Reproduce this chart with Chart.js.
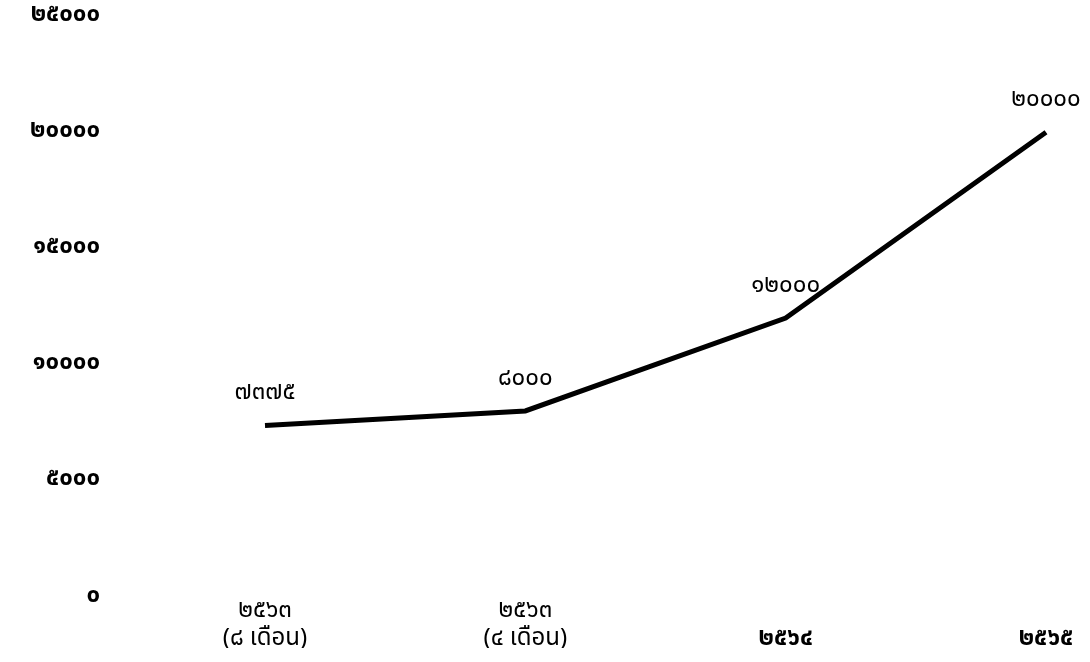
<!DOCTYPE html>
<html>
<head>
<meta charset="utf-8">
<script src="https://cdn.jsdelivr.net/npm/chart.js@4.4.0/dist/chart.umd.min.js"></script>
<style>
  html, body { margin: 0; padding: 0; background: #fff; overflow: hidden; }
  canvas { display: block; }
</style>
</head>
<body>
<canvas id="chart" width="1090" height="662"></canvas>
<script>
// ข้อมูล
const categories = [["๒๕๖๓", "(๘ เดือน)"], ["๒๕๖๓", "(๔ เดือน)"], ["", "๒๕๖๔"], ["", "๒๕๖๕"]];
const values = [7375, 8000, 12000, 20000];
const valueLabels = ["๗๓๗๕", "๘๐๐๐", "๑๒๐๐๐", "๒๐๐๐๐"];
const yTickLabels = ["๐", "๕๐๐๐", "๑๐๐๐๐", "๑๕๐๐๐", "๒๐๐๐๐", "๒๕๐๐๐"];

const FONT = "'Noto Sans Thai', Tahoma, 'Noto Sans', 'DejaVu Sans', sans-serif";
Chart.defaults.font.family = FONT;
Chart.defaults.color = "#000";

// ตัวเลขกำกับเหนือจุด
const pointLabels = {
  id: "point-labels",
  afterDatasetsDraw(chart) {
    const meta = chart.getDatasetMeta(0);
    const c = chart.ctx;
    c.save();
    c.fillStyle = "#000";
    c.font = "24px " + FONT;
    c.textAlign = "center";
    c.textBaseline = "middle";
    meta.data.forEach((pt, i) => {
      c.fillText(valueLabels[i], pt.x, pt.y - 31);
    });
    c.restore();
  }
};

new Chart(document.getElementById("chart"), {
  type: "line",
  data: {
    labels: categories,
    datasets: [{
      data: values,
      borderColor: "#000",
      borderWidth: 5,
      pointRadius: 0,
      tension: 0,
      fill: false
    }]
  },
  plugins: [pointLabels],
  options: {
    responsive: false,
    devicePixelRatio: 1,
    animation: false,
    layout: { padding: { left: 8, right: 44, top: 16, bottom: 14 } },
    plugins: { legend: { display: false }, tooltip: { enabled: false } },
    scales: {
      x: {
        grid: { display: false },
        border: { display: false },
        ticks: {
          maxRotation: 0,
          padding: -6,
          font: ctx => ctx.index >= 2
            ? { size: 24, weight: "bold", lineHeight: 1.15 }
            : { size: 24, lineHeight: 1.15 }
        }
      },
      y: {
        min: 0,
        max: 25000,
        grid: { display: false },
        border: { display: false },
        // ป้ายแกน y ชิดขวาที่ x≈100 ส่วนพื้นที่กราฟเริ่มที่ x≈265
        afterFit: scale => {
          scale.width = 257;
          scale.paddingTop = 0;
          scale.paddingBottom = 0;
        },
        ticks: {
          stepSize: 5000,
          padding: 157,
          font: { size: 24, weight: "bold" },
          callback: (v, i) => yTickLabels[i]
        }
      }
    }
  }
});
</script>
</body>
</html>
